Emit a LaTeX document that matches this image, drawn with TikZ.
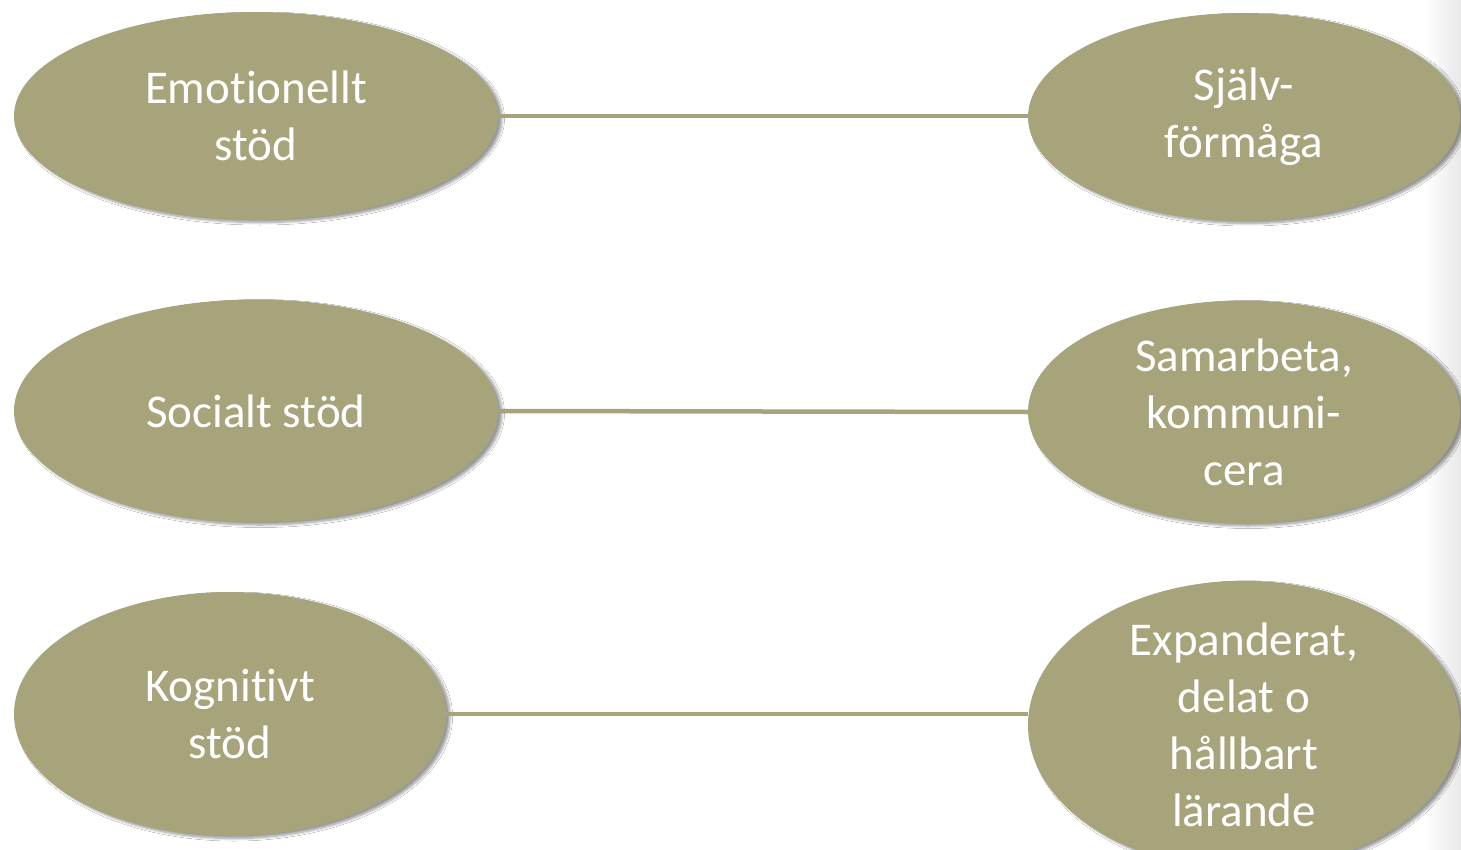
\documentclass[tikz,border=0pt]{standalone}
\usepackage{fontspec}
\setmainfont{Carlito}[Ligatures=NoCommon]
\usetikzlibrary{shapes.geometric,shadows.blur}
\definecolor{olive}{HTML}{A7A47B}
\tikzset{
  bubble/.style={ellipse, fill=olive, inner sep=0pt, align=center,
    text=white, font=\fontsize{47}{57}\selectfont,
    blur shadow={shadow xshift=4pt, shadow yshift=-2.5pt, shadow blur radius=2.5pt,
      shadow blur steps=8, shadow opacity=40}},
  link/.style={draw=olive, line width=4.5pt}
}
\begin{document}
\begin{tikzpicture}[x=1pt,y=-1pt]
  \useasboundingbox (0,0) rectangle (1461,850);
  \fill[white] (0,0) rectangle (1461,850);
  \shade[left color=white, right color=black!9] (1425,0) rectangle (1461,850);

  \node[bubble, minimum width=484pt, minimum height=208pt] (L1) at (256,116) {Emotionellt\\stöd};
  \node[bubble, minimum width=432pt, minimum height=208pt] (R1) at (1244,117) {Själv-\\förmåga};
  \node[bubble, minimum width=484pt, minimum height=223pt] (L2) at (256,411) {Socialt stöd};
  \node[bubble, minimum width=432pt, minimum height=223pt] (R2) at (1244,412) {Samarbeta,\\kommuni-\\cera};
  \node[bubble, minimum width=432pt, minimum height=244pt] (L3) at (230,714) {Kognitivt\\stöd};
  \node[bubble, minimum width=432pt, minimum height=266pt] (R3) at (1244,725) {Expanderat,\\delat o\\hållbart\\lärande};

  \draw[link] (L1.east) -- (L1.east -| R1.west);
  \draw[link] (L2.east) -- (R2.west);
  \draw[link] (L3.east) -- (L3.east -| R3.west);
\end{tikzpicture}
\end{document}
